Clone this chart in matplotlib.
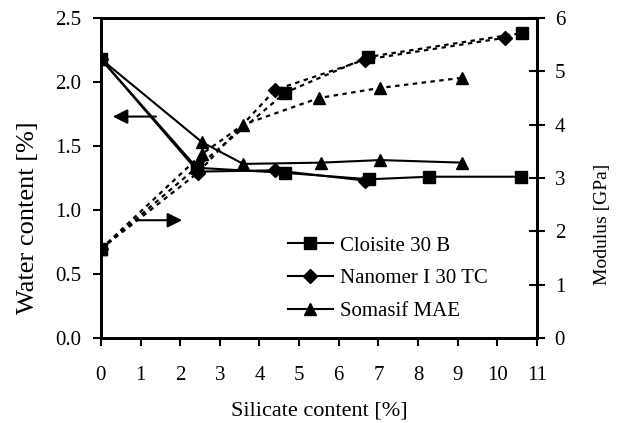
import matplotlib
matplotlib.use("Agg")
import matplotlib.pyplot as plt
from matplotlib.lines import Line2D

plt.rcParams['font.family'] = ['Liberation Serif', 'DejaVu Serif']
plt.rcParams['font.size'] = 15

# water content (solid lines, left axis)
x_cl_w = [0, 2.42, 4.65, 6.77, 8.28, 10.6]
w_cl = [2.18, 1.33, 1.29, 1.24, 1.26, 1.26]
x_na_w = [0, 2.45, 4.39, 6.67]
w_na = [2.18, 1.30, 1.31, 1.23]
x_so_w = [0, 2.55, 3.59, 5.55, 7.05, 9.12]
w_so = [2.18, 1.53, 1.36, 1.37, 1.39, 1.37]

# modulus (dotted lines, right axis)
x_cl_m = [0, 2.42, 4.65, 6.74, 10.63]
m_cl = [1.67, 3.2, 4.6, 5.27, 5.72]
x_na_m = [0, 2.45, 4.39, 6.67, 10.2]
m_na = [1.67, 3.1, 4.65, 5.22, 5.63]
x_so_m = [0, 2.55, 3.59, 5.5, 7.05, 9.12]
m_so = [1.67, 3.45, 4.0, 4.5, 4.69, 4.88]

names = ['Cloisite 30 B', 'Nanomer I 30 TC', 'Somasif MAE']
markers = ['s', 'D', '^']
msizes = [8, 7, 8.5]

fig = plt.figure(figsize=(6.19, 4.23), dpi=100)
ax = fig.add_axes([0.163, 0.201, 0.7045, 0.7564])
ax2 = ax.twinx()

water = [(x_cl_w, w_cl), (x_na_w, w_na), (x_so_w, w_so)]
modulus = [(x_cl_m, m_cl), (x_na_m, m_na), (x_so_m, m_so)]

for (xs, ys), mk, ms in zip(water, markers, msizes):
    ax.plot(xs, ys, color='black', lw=1.5, marker=mk, ms=ms, zorder=3)
for (xs, ys), mk, ms in zip(modulus, markers, msizes):
    ax2.plot(xs, ys, color='black', lw=1.6, ls=(0, (2, 2)), marker=mk, ms=ms, zorder=3)

ax.set_xlim(0, 11)
ax.set_ylim(0, 2.5)
ax2.set_ylim(0, 6)
ax.set_xticks(range(0, 12))
ax.set_yticks([0, 0.5, 1.0, 1.5, 2.0, 2.5])
ax.set_yticklabels(['0.0', '0.5', '1.0', '1.5', '2.0', '2.5'])
ax2.set_yticks(range(0, 7))

ax.tick_params(axis='y', direction='out', length=6, width=1.5, pad=8)
ax.tick_params(axis='x', direction='out', length=6, width=1.5, pad=14)
ax2.tick_params(axis='y', direction='inout', length=11.5, width=1.5, pad=7)
for a in (ax, ax2):
    for s in a.spines.values():
        s.set_linewidth(2)

ax.set_xlabel('Silicate content [%]', fontsize=16, labelpad=12)
ax.set_ylabel('Water content [%]', fontsize=19, labelpad=12)
ax2.set_ylabel('Modulus [GPa]', fontsize=14, labelpad=21)
# both axis titles sit a bit below the middle of the axes
ax.yaxis.label.set_y(0.375)
ax2.yaxis.label.set_y(0.356)

# arrows pointing to the axes
ax.annotate('', xy=(0.23, 1.73), xytext=(1.46, 1.73),
            arrowprops=dict(arrowstyle='-|>', color='black', lw=1.5, mutation_scale=22))
ax.annotate('', xy=(2.12, 0.92), xytext=(0.81, 0.92),
            arrowprops=dict(arrowstyle='-|>', color='black', lw=1.5, mutation_scale=22))

handles = [Line2D([], [], color='black', lw=1.5, marker=mk, ms=ms)
           for mk, ms in zip(markers, msizes)]
ax2.legend(handles, names, frameon=False, loc='upper left',
           bbox_to_anchor=(0.41, 0.345), handlelength=2.15, handletextpad=0.35,
           labelspacing=0.63, borderaxespad=0)

fig.savefig('out.png', dpi=100)
